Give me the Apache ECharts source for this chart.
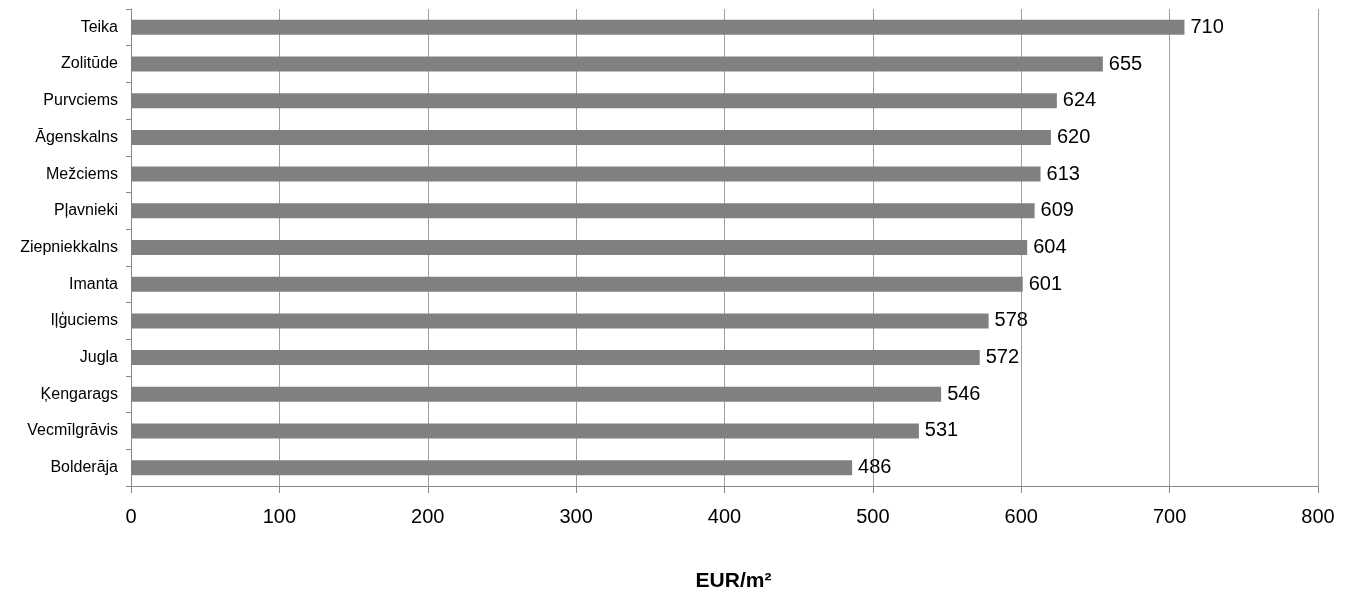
<!DOCTYPE html>
<html>
<head>
<meta charset="utf-8">
<script src="https://cdn.jsdelivr.net/npm/echarts@6/dist/echarts.min.js"></script>
<style>
  html, body { margin: 0; padding: 0; background: #fff; }
  #chart { width: 1354px; height: 597px; }
</style>
</head>
<body>
<div id="chart"></div>
<script>
// Riga neighbourhoods, from top to bottom
const districts = [
  'Teika', 'Zolitūde', 'Purvciems', 'Āgenskalns', 'Mežciems', 'Pļavnieki',
  'Ziepniekkalns', 'Imanta', 'Iļģuciems', 'Jugla', 'Ķengarags',
  'Vecmīlgrāvis', 'Bolderāja'
];
// Average price, EUR per square metre
const prices = [710, 655, 624, 620, 613, 609, 604, 601, 578, 572, 546, 531, 486];
// Value axis ticks
const xTicks = [0, 100, 200, 300, 400, 500, 600, 700, 800];

const FONT = '"Liberation Sans", Arial, sans-serif';
const chart = echarts.init(document.getElementById('chart'), null, { renderer: 'canvas' });

chart.setOption({
  animation: false,
  backgroundColor: '#ffffff',
  grid: { left: 131, right: 36, top: 9, bottom: 110, containLabel: false },
  xAxis: {
    type: 'value',
    min: xTicks[0],
    max: xTicks[xTicks.length - 1],
    interval: xTicks[1] - xTicks[0],
    name: 'EUR/m²',
    nameLocation: 'middle',
    nameGap: 85,
    nameTextStyle: {
      fontFamily: FONT, fontSize: 21, fontWeight: 'bold', color: '#000',
      padding: [0, 0, 0, 18]
    },
    axisLine: { show: true, lineStyle: { color: '#888888', width: 1 } },
    axisTick: { show: true, length: 7, lineStyle: { color: '#888888' } },
    axisLabel: { fontFamily: FONT, fontSize: 20, color: '#000', margin: 21 },
    splitLine: { show: true, lineStyle: { color: '#a0a0a0', width: 1 } }
  },
  yAxis: {
    type: 'category',
    data: districts,
    inverse: true,
    axisLine: { show: true, lineStyle: { color: '#888888', width: 1 } },
    axisTick: { show: true, length: 5, lineStyle: { color: '#888888' } },
    axisLabel: { fontFamily: FONT, fontSize: 16, color: '#000', margin: 13 },
    splitLine: { show: false }
  },
  series: [{
    type: 'bar',
    data: prices,
    barWidth: 15,
    itemStyle: { color: '#808080' },
    label: {
      show: true,
      position: 'right',
      distance: 6,
      fontFamily: FONT,
      fontSize: 20,
      color: '#000'
    }
  }]
});
</script>
</body>
</html>
